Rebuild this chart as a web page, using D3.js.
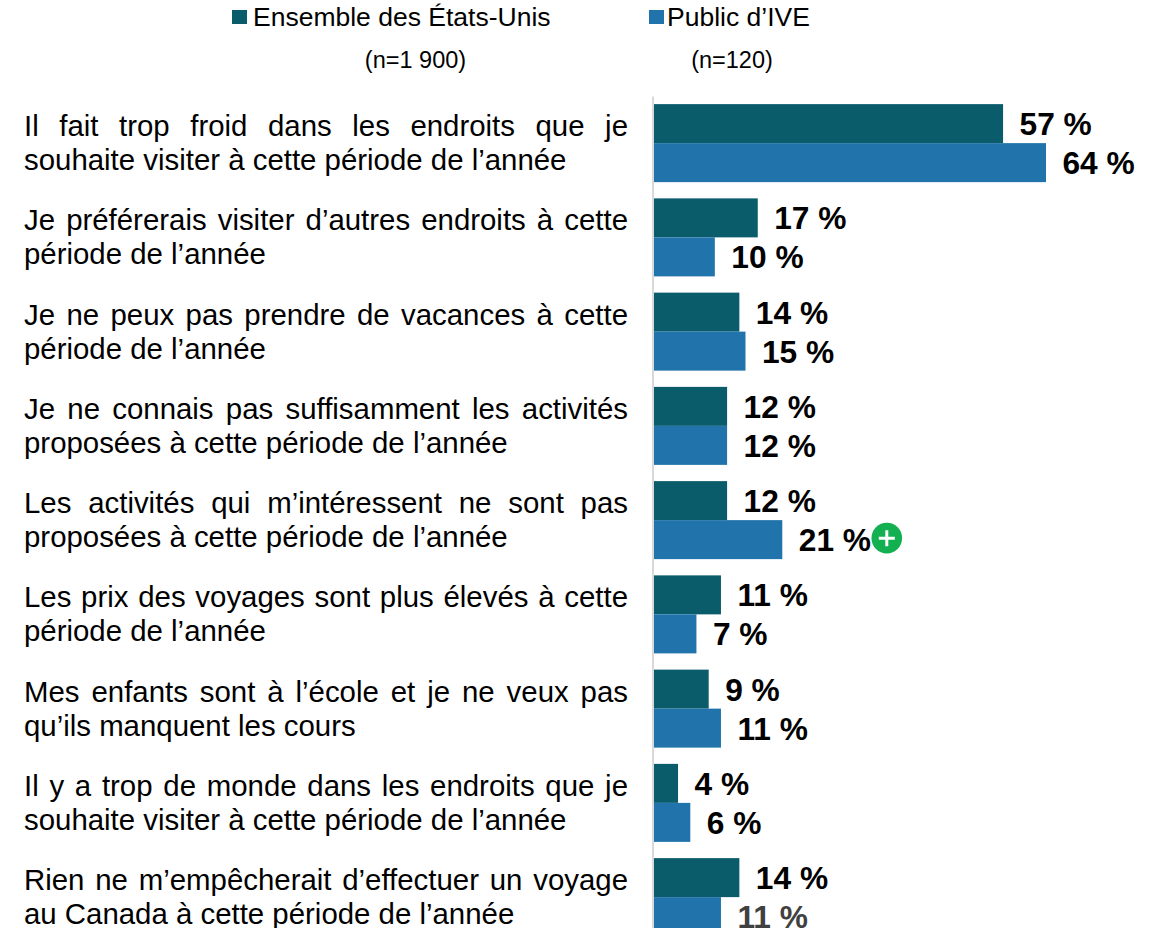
<!DOCTYPE html>
<html>
<head>
<meta charset="utf-8">
<script src="https://cdn.jsdelivr.net/npm/d3@7"></script>
<style>
html, body { margin: 0; padding: 0; background: #fff; overflow: hidden; }
svg { display: block; }
text { font-family: "Liberation Sans", Arial, sans-serif; }
</style>
</head>
<body>
<div id="chart"></div>
<script>
var categories = [
	['Il fait trop froid dans les endroits que je', 'souhaite visiter à cette période de l’année'],
	['Je préférerais visiter d’autres endroits à cette', 'période de l’année'],
	['Je ne peux pas prendre de vacances à cette', 'période de l’année'],
	['Je ne connais pas suffisamment les activités', 'proposées à cette période de l’année'],
	['Les activités qui m’intéressent ne sont pas', 'proposées à cette période de l’année'],
	['Les prix des voyages sont plus élevés à cette', 'période de l’année'],
	['Mes enfants sont à l’école et je ne veux pas', 'qu’ils manquent les cours'],
	['Il y a trop de monde dans les endroits que je', 'souhaite visiter à cette période de l’année'],
	['Rien ne m’empêcherait d’effectuer un voyage', 'au Canada à cette période de l’année']
];
var ensemble_values = [57, 17, 14, 12, 12, 11, 9, 4, 14];
var public_values = [64, 10, 15, 12, 21, 7, 11, 6, 11];
var series_names = ['Ensemble des États-Unis', 'Public d’IVE'];
var series_counts = ['(n=1 900)', '(n=120)'];
var series_colors = ['#0b5c6b', '#2074ab'];
var plus_flags = [0, 0, 0, 0, 1, 0, 0, 0, 0];

var chart_width = 1156;
var chart_height = 928;
var left = 653.5;
var text_left = 24;
var text_right = 628;

var svg = d3.select('#chart')
	.append('svg')
	.attr('width', chart_width)
	.attr('height', chart_height);

// create scales
var x_scale = d3.scaleLinear()
	.domain([0, 64])
	.range([left, 1046]);

var y_scale = d3.scaleBand()
	.domain(d3.range(categories.length))
	.range([96, 944.25])
	.paddingInner(0.1724)
	.paddingOuter(0.0862);

var y_inner = d3.scaleBand()
	.domain([0, 1])
	.range([0, y_scale.bandwidth()]);

// bars
var rows = categories.map(function(c, i){
	return { index: i, values: [ensemble_values[i], public_values[i]] };
});

var groups = svg.selectAll('.row')
	.data(rows)
	.enter()
	.append('g')
	.attr('class', 'row')
	.attr('transform', function(d){
		return 'translate(0,' + y_scale(d.index) + ')';
	});

groups.selectAll('rect')
	.data(function(d){ return d.values; })
	.enter()
	.append('rect')
	.attr('x', left)
	.attr('y', function(d, i){ return y_inner(i); })
	.attr('width', function(d){ return x_scale(d) - left; })
	.attr('height', y_inner.bandwidth())
	.attr('fill', function(d, i){ return series_colors[i]; });

// value labels
groups.selectAll('.value')
	.data(function(d){ return d.values; })
	.enter()
	.append('text')
	.attr('class', 'value')
	.attr('x', function(d){ return x_scale(d) + 16.5; })
	.attr('y', function(d, i){ return y_inner(i) + y_inner.bandwidth() / 2 + 11.5; })
	.attr('font-size', 31.7)
	.attr('font-weight', 'bold')
	.attr('fill', '#000')
	.text(function(d){ return d + ' %'; });

// last label is lighter in the original
groups.filter(function(d){ return d.index === categories.length - 1; })
	.selectAll('.value')
	.filter(function(d, i){ return i === 1; })
	.attr('fill', '#404040');

// significance marker
var plus = groups.filter(function(d){ return plus_flags[d.index]; })
	.append('g')
	.attr('transform', function(d){
		return 'translate(' + (x_scale(d.values[1]) + 104.5) + ',' + (y_inner(1) + y_inner.bandwidth() / 2 - 1.5) + ')';
	});
plus.append('circle').attr('r', 15.3).attr('fill', '#12b050');
plus.append('path')
	.attr('d', 'M-8,0H8M0,-8V8')
	.attr('stroke', '#fff')
	.attr('stroke-width', 3)
	.attr('fill', 'none');

// axis line
var y_axis = d3.axisLeft(y_scale).tickSize(0).tickSizeOuter(0).tickFormat('');
var axis_g = svg.append('g')
	.attr('transform', 'translate(' + (left - 1) + ',0)')
	.call(y_axis);
axis_g.select('.domain').attr('stroke', '#d9d9d9').attr('stroke-width', 2);

// category labels, first line justified
var labels = svg.selectAll('.label')
	.data(categories)
	.enter()
	.append('text')
	.attr('class', 'label')
	.attr('font-size', 29.4)
	.attr('fill', '#000');

labels.each(function(d, i){
	var el = d3.select(this);
	var top = y_scale(i);
	var first = el.append('tspan')
		.attr('x', text_left)
		.attr('y', top + 32)
		.text(d[0]);
	var used = first.node().getComputedTextLength();
	var gaps = d[0].split(' ').length - 1;
	first.attr('word-spacing', (text_right - text_left - used) / gaps);
	el.append('tspan')
		.attr('x', text_left)
		.attr('y', top + 66)
		.text(d[1]);
});

// legend
var legend_sq = [231, 648];
var legend_text = [253, 667];
var count_mid = [415.5, 732];

svg.selectAll('.lg-sq')
	.data(series_names)
	.enter()
	.append('rect')
	.attr('x', function(d, i){ return legend_sq[i] + 1; })
	.attr('y', 10)
	.attr('width', 15)
	.attr('height', 14)
	.attr('fill', function(d, i){ return series_colors[i]; });

svg.selectAll('.lg-name')
	.data(series_names)
	.enter()
	.append('text')
	.attr('x', function(d, i){ return legend_text[i]; })
	.attr('y', 26)
	.attr('font-size', 26.5)
	.attr('fill', '#000')
	.text(function(d){ return d; });

svg.selectAll('.lg-count')
	.data(series_counts)
	.enter()
	.append('text')
	.attr('x', function(d, i){ return count_mid[i]; })
	.attr('y', 68)
	.attr('font-size', 23.5)
	.attr('text-anchor', 'middle')
	.attr('fill', '#000')
	.text(function(d){ return d; });
</script>
</body>
</html>
